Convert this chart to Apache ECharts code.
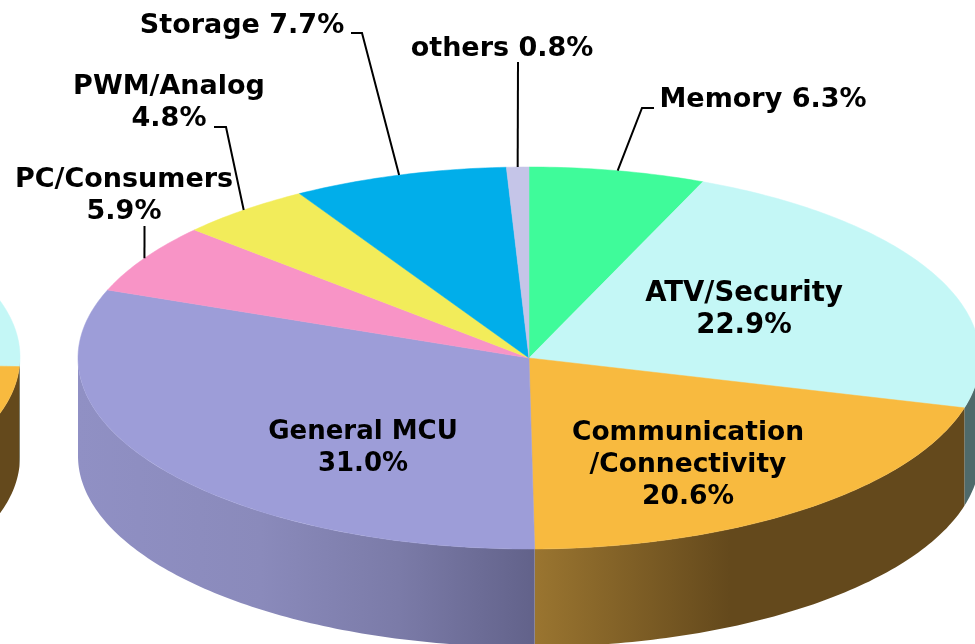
<!DOCTYPE html>
<html>
<head>
<meta charset="utf-8">
<script src="https://cdn.jsdelivr.net/npm/echarts@6/dist/echarts.min.js"></script>
<style>
  html, body { margin: 0; padding: 0; background: #fff; }
  #chart { width: 975px; height: 644px; }
</style>
</head>
<body>
<div id="chart"></div>
<script>
// slices, clockwise from 12 o'clock
const categories = ['Memory', 'ATV/Security', 'Communication\n/Connectivity', 'General MCU', 'PC/Consumers', 'PWM/Analog', 'Storage', 'others'];
const shares = [6.3, 22.9, 20.6, 31.0, 5.9, 4.8, 7.7, 0.8];

// the neighbouring pie cut off at the left edge, only two slices can be seen
const neighbourShares = [25.8, 20.0, 54.2];

const topColors = ['#3ffb9a', '#c4f7f6', '#f8ba3f', '#9d9dd8', '#f894c6', '#f2ec5a', '#01aeea', '#c5c5e8'];
const neighbourColors = ['#c4f7f6', '#f8ba3f', '#9d9dd8'];

// tilted disc
const pie = { cx: 529, cy: 358, rx: 451, ry: 191, depth: 98 };
const neighbourPie = { cx: -430, cy: 357, rx: 450, ry: 191, depth: 100 };

const LINE_H = 32;

// text centre, size and leader knee/end for each slice
const labelLayout = [
    { x: 763, y: 100, size: 27, sep: ' ', leader: [[642, 108], [654, 108]] },
    { x: 744, y: 294, size: 27.5, sep: '\n' },
    { x: 688, y: 433, size: 26.5, sep: '\n' },
    { x: 363, y: 432, size: 26, sep: '\n' },
    { x: 124, y: 180, size: 27, sep: '\n', leader: [[144.5, 226]] },
    { x: 169, y: 87, size: 27, sep: '\n', leader: [[226, 127], [214, 127]] },
    { x: 242, y: 26, size: 27, sep: ' ', leader: [[362, 33], [351, 33]] },
    { x: 502, y: 49, size: 27, sep: ' ', leader: [[518, 62]] }
];

function withStart(list) {
    let sum = 0;
    return list.map(function (v) {
        const row = [v, sum];
        sum += v;
        return row;
    });
}

function point(p, pct, drop) {
    const a = pct / 100 * Math.PI * 2;
    return [p.cx + p.rx * Math.sin(a), p.cy - p.ry * Math.cos(a) + (drop || 0)];
}

function arc(p, from, to, drop) {
    const pts = [];
    const n = Math.max(2, Math.ceil((to - from) * 4));
    for (let i = 0; i <= n; i++) {
        pts.push(point(p, from + (to - from) * i / n, drop));
    }
    return pts;
}

function gradient(x0, x1, stops) {
    return new echarts.graphic.LinearGradient(x0, 0, x1, 0, stops.map(function (s) {
        return { offset: s[0], color: s[1] };
    }), true);
}

const sideFills = {
    1: '#4f6a6a',
    2: gradient(535, 730, [[0, '#9a7530'], [1, '#64491c']]),
    3: gradient(78, 535, [[0, '#9090c4'], [0.4, '#8a8abb'], [0.7, '#7b7ba8'], [1, '#62628a']])
};
const neighbourSideFills = { 0: '#4f6a6a', 1: '#64491c', 2: '#64491c' };

function sideSeries(p, rows, fills) {
    return {
        type: 'custom',
        coordinateSystem: 'none',
        silent: true,
        data: rows,
        renderItem: function (params, api) {
            const start = api.value(1);
            // only the front half of the rim shows
            const from = Math.max(start, 25);
            const to = Math.min(start + api.value(0), 75);
            if (to <= from) return { type: 'group', children: [] };
            const fill = fills[params.dataIndex];
            return {
                type: 'polygon',
                shape: { points: arc(p, from, to, 0).concat(arc(p, from, to, p.depth).reverse()) },
                style: { fill: fill, stroke: null }
            };
        }
    };
}

function topSeries(p, rows, colors) {
    return {
        type: 'custom',
        coordinateSystem: 'none',
        silent: true,
        data: rows,
        renderItem: function (params, api) {
            const start = api.value(1);
            const color = colors[params.dataIndex];
            return {
                type: 'polygon',
                shape: { points: [[p.cx, p.cy]].concat(arc(p, start, start + api.value(0), 0)) },
                style: { fill: color, stroke: color, lineWidth: 0.5 }
            };
        }
    };
}

function labelSeries(p, rows) {
    return {
        type: 'custom',
        coordinateSystem: 'none',
        silent: true,
        z: 5,
        data: rows,
        renderItem: function (params, api) {
            const i = params.dataIndex;
            const value = api.value(0);
            const lay = labelLayout[i];
            const children = [{
                type: 'text',
                style: {
                    text: categories[i] + lay.sep + value.toFixed(1) + '%',
                    x: lay.x,
                    y: lay.y - LINE_H / 2,
                    align: 'center',
                    verticalAlign: 'top',
                    font: 'bold ' + lay.size + 'px "DejaVu Sans", Verdana, sans-serif',
                    lineHeight: LINE_H,
                    fill: '#000'
                }
            }];
            if (lay.leader) {
                children.push({
                    type: 'polyline',
                    shape: { points: [point(p, api.value(1) + value / 2, 0)].concat(lay.leader) },
                    style: { stroke: '#000', lineWidth: 2, fill: null }
                });
            }
            return { type: 'group', children: children };
        }
    };
}

const chart = echarts.init(document.getElementById('chart'), null, { renderer: 'canvas' });
const rows = withStart(shares);
const neighbourRows = withStart(neighbourShares);

chart.setOption({
    animation: false,
    backgroundColor: '#fff',
    series: [
        sideSeries(neighbourPie, neighbourRows, neighbourSideFills),
        topSeries(neighbourPie, neighbourRows, neighbourColors),
        sideSeries(pie, rows, sideFills),
        topSeries(pie, rows, topColors),
        labelSeries(pie, rows)
    ]
});
</script>
</body>
</html>
